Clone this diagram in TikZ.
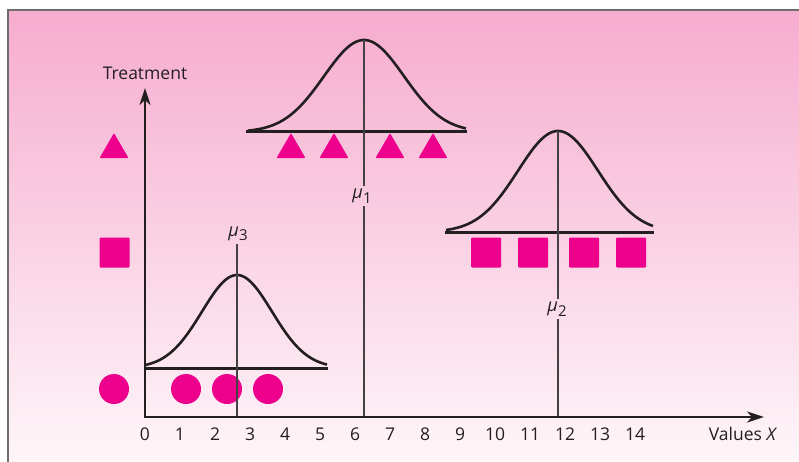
\documentclass[tikz,border=0pt]{standalone}
\usepackage{fontspec}
\setmainfont{Open Sans}
\usetikzlibrary{arrows.meta,shapes.geometric}
\definecolor{bgtop}{RGB}{246,172,206}
\definecolor{bgbot}{RGB}{254,247,250}
\definecolor{mag}{RGB}{236,0,140}
\definecolor{ink}{RGB}{35,31,32}
\definecolor{frameline}{RGB}{110,110,110}
\newcommand\mulab[1]{{\itshape μ}\kern0.3pt\raisebox{-4.5pt}{\fontsize{15}{15}\selectfont #1}}
\begin{document}
\begin{tikzpicture}[x=1pt,y=-1pt,
  lbl/.style={text=ink,font=\fontsize{17.5}{20}\selectfont,inner sep=0pt},
  mulbl/.style={text=ink,font=\fontsize{18}{20}\selectfont,inner sep=0pt},
  tri/.style={regular polygon,regular polygon sides=3,minimum size=33.4pt,inner sep=0pt,fill=mag,rounded corners=1pt},
  sqr/.style={rectangle,minimum size=30pt,inner sep=0pt,fill=mag,rounded corners=1pt},
  circ/.style={circle,minimum size=30pt,inner sep=0pt,fill=mag},
  curve/.style={ink,line width=2.6pt,line join=round},
  baseln/.style={ink,line width=3pt},
  muline/.style={ink!85,line width=1.3pt},
  axis/.style={ink,line width=2.6pt,-{Stealth[length=17pt,width=11pt,inset=5pt]}}]
\useasboundingbox (0,0) rectangle (799,462);
\fill[white] (0,0) rectangle (799,462);
\shade[top color=bgtop,bottom color=bgbot] (8,10) rectangle (812,470);
\draw[frameline,line width=1.3pt] (8,470) -- (8,10) -- (812,10);

% legend shapes
\node[tri]  (lt) at (114,149.7) {};
\node[sqr]  (ls) at (114.5,252.5) {};
\node[circ] (lc) at (114,389) {};

% sample shapes
\foreach \x [count=\i] in {291,334,390,433} \node[tri] (t\i) at (\x,149.7) {};
\foreach \x [count=\i] in {486,533,584,631} \node[sqr] (s\i) at (\x,252.5) {};
\foreach \x [count=\i] in {186,227,268} \node[circ] (c\i) at (\x,389) {};

% curves
\draw[curve] plot[domain=-116:102,samples=90,smooth] ({364+\x},{132-92*exp(-0.5*(\x/40)*(\x/40))});
\draw[curve] plot[domain=-112:95,samples=90,smooth] ({558+\x},{232-101*exp(-0.5*(\x/40)*(\x/40))});
\draw[curve] plot[domain=-92:90,samples=90,smooth] ({237+\x},{368-93*exp(-0.5*(\x/35)*(\x/35))});

% baselines
\coordinate (b1l) at (246,132); \coordinate (b1r) at (467,132);
\coordinate (b2l) at (445,232); \coordinate (b2r) at (654,232);
\coordinate (b3l) at (145,368); \coordinate (b3r) at (328,368);
\draw[baseln] (b1l) -- (b1r);
\draw[baseln] (b2l) -- (b2r);
\draw[baseln] (b3l) -- (b3r);

% mean lines
\coordinate (O) at (145,417);
\coordinate (p1) at (364,40);
\coordinate (p2) at (558,131);
\coordinate (p3) at (237,244);
\node[mulbl] (m1) at (362,196) {\mulab{1}};
\node[mulbl] (m2) at (557,309) {\mulab{2}};
\node[mulbl] (m3) at (238,234) {\mulab{3}};
\draw[muline] (p1) -- ([yshift=3pt]m1.north -| p1);
\draw[muline] ([yshift=-3pt]m1.south -| p1) -- (p1 |- O);
\draw[muline] (p2) -- ([yshift=3pt]m2.north -| p2);
\draw[muline] ([yshift=-3pt]m2.south -| p2) -- (p2 |- O);
\draw[muline] (p3) -- (p3 |- O);

% axes
\coordinate (ytip) at (145,88);
\coordinate (xtip) at (764,417);
\draw[axis] ([yshift=1.3pt]O) -- (ytip);
\draw[axis] ([xshift=-1.3pt]O) -- (xtip);

% labels
\foreach \i in {0,...,14} \node[lbl] (x\i) at ({145+35*\i},434) {\i};
\node[lbl] (ylab) at (145,73) {Treatment};
\node[lbl] (xlab) at (743,434) {Values \textit{X}};
\end{tikzpicture}
\end{document}
